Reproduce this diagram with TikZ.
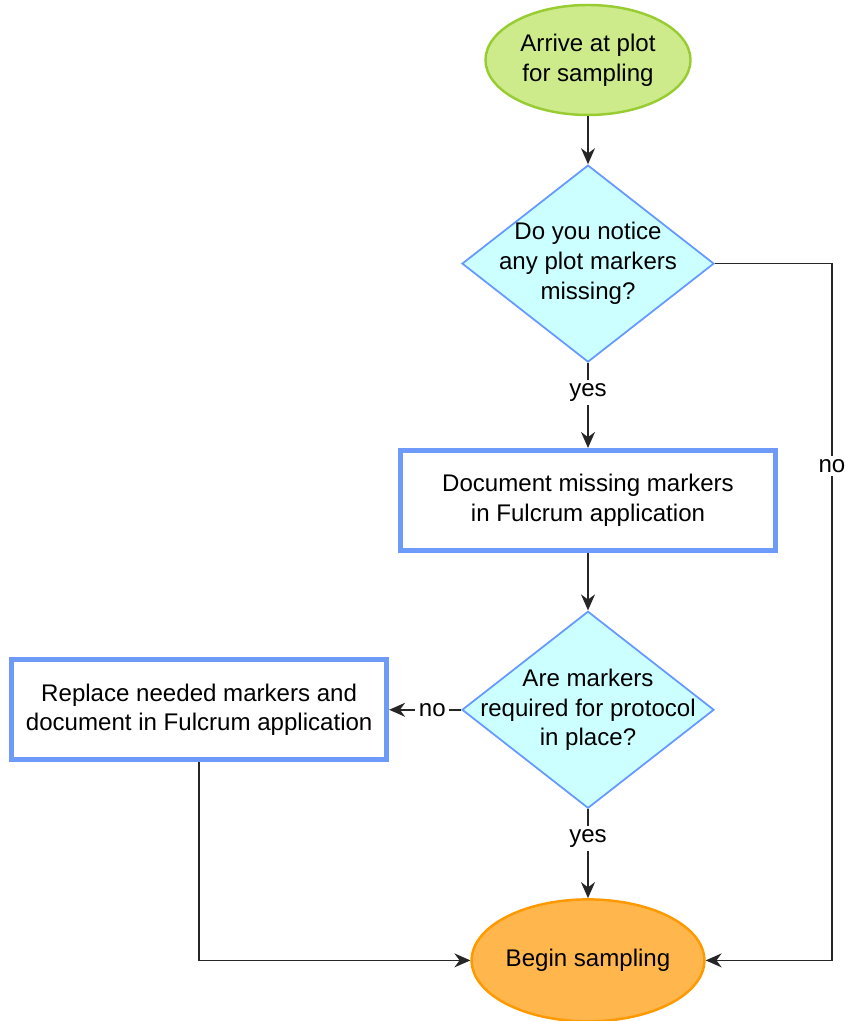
\documentclass[tikz,border=0pt]{standalone}
\usepackage{fontspec}
\setmainfont{Liberation Sans}
\usetikzlibrary{shapes.geometric, arrows.meta, positioning, calc}
\definecolor{startgreen}{RGB}{205,235,139}
\definecolor{startedge}{RGB}{153,204,51}
\definecolor{decisioncyan}{RGB}{204,255,255}
\definecolor{decisionedge}{RGB}{102,153,255}
\definecolor{boxedge}{RGB}{110,155,250}
\definecolor{endorange}{RGB}{255,182,77}
\definecolor{endedge}{RGB}{255,153,0}

\begin{document}
\begin{tikzpicture}[
        every node/.style={font=\fontsize{13.7}{17}\selectfont},
        terminal/.style={ellipse, draw, line width=1.4pt, align=center, inner sep=0pt},
        decision/.style={diamond, aspect=1.28, draw=decisionedge, fill=decisioncyan, line width=1pt, minimum width=5.04cm, minimum height=3.94cm, align=center, inner sep=-0.5cm},
        taskbox/.style={rectangle, draw=boxedge, fill=white, line width=2.8pt, minimum width=7.5cm, minimum height=2cm, align=center},
        flow/.style={-{Stealth[length=0.32cm, width=0.28cm]}, line width=0.9pt, draw=black!85},
        lbl/.style={fill=white, inner sep=2pt}
    ]
        \useasboundingbox (0,0) rectangle (16.9,20.42);
        \node[terminal, fill=startgreen, draw=startedge, minimum width=4.1cm, minimum height=2.2cm] (arrive) at (11.76,19.22) {Arrive at plot\\for sampling};
        \node[decision, below=0.96cm of arrive] (noticemissing) {Do you notice\\any plot markers\\missing?};
        \node[taskbox, below=1.7cm of noticemissing] (docmissing) {Document missing markers\\in Fulcrum application};
        \node[decision, below=1.15cm of docmissing] (inplace) {Are markers\\required for protocol\\in place?};
        \node[taskbox, left=1.44cm of inplace] (replace) {Replace needed markers and\\document in Fulcrum application};
        \node[terminal, fill=endorange, draw=endedge, minimum width=4.44cm, minimum height=2.44cm, below=1.78cm of inplace] (begin) {Begin sampling};
        \coordinate (bypass) at ($(noticemissing.east)+(2.34,0)$);

        \draw[flow] (arrive) -- (noticemissing);
        \draw[flow] (noticemissing) -- node[lbl, pos=0.35] {yes} (docmissing);
        \draw[flow] (docmissing) -- (inplace);
        \draw[flow] (inplace) -- node[lbl, pos=0.4] {no} (replace);
        \draw[flow] (inplace) -- node[lbl, pos=0.33] {yes} (begin);
        \draw[flow] (replace.south) |- (begin.west);
        \draw[flow] (noticemissing.east) -- (bypass) -- node[lbl, pos=0.29] {no} (bypass |- begin.east) -- (begin.east);
    \end{tikzpicture}
\end{document}
